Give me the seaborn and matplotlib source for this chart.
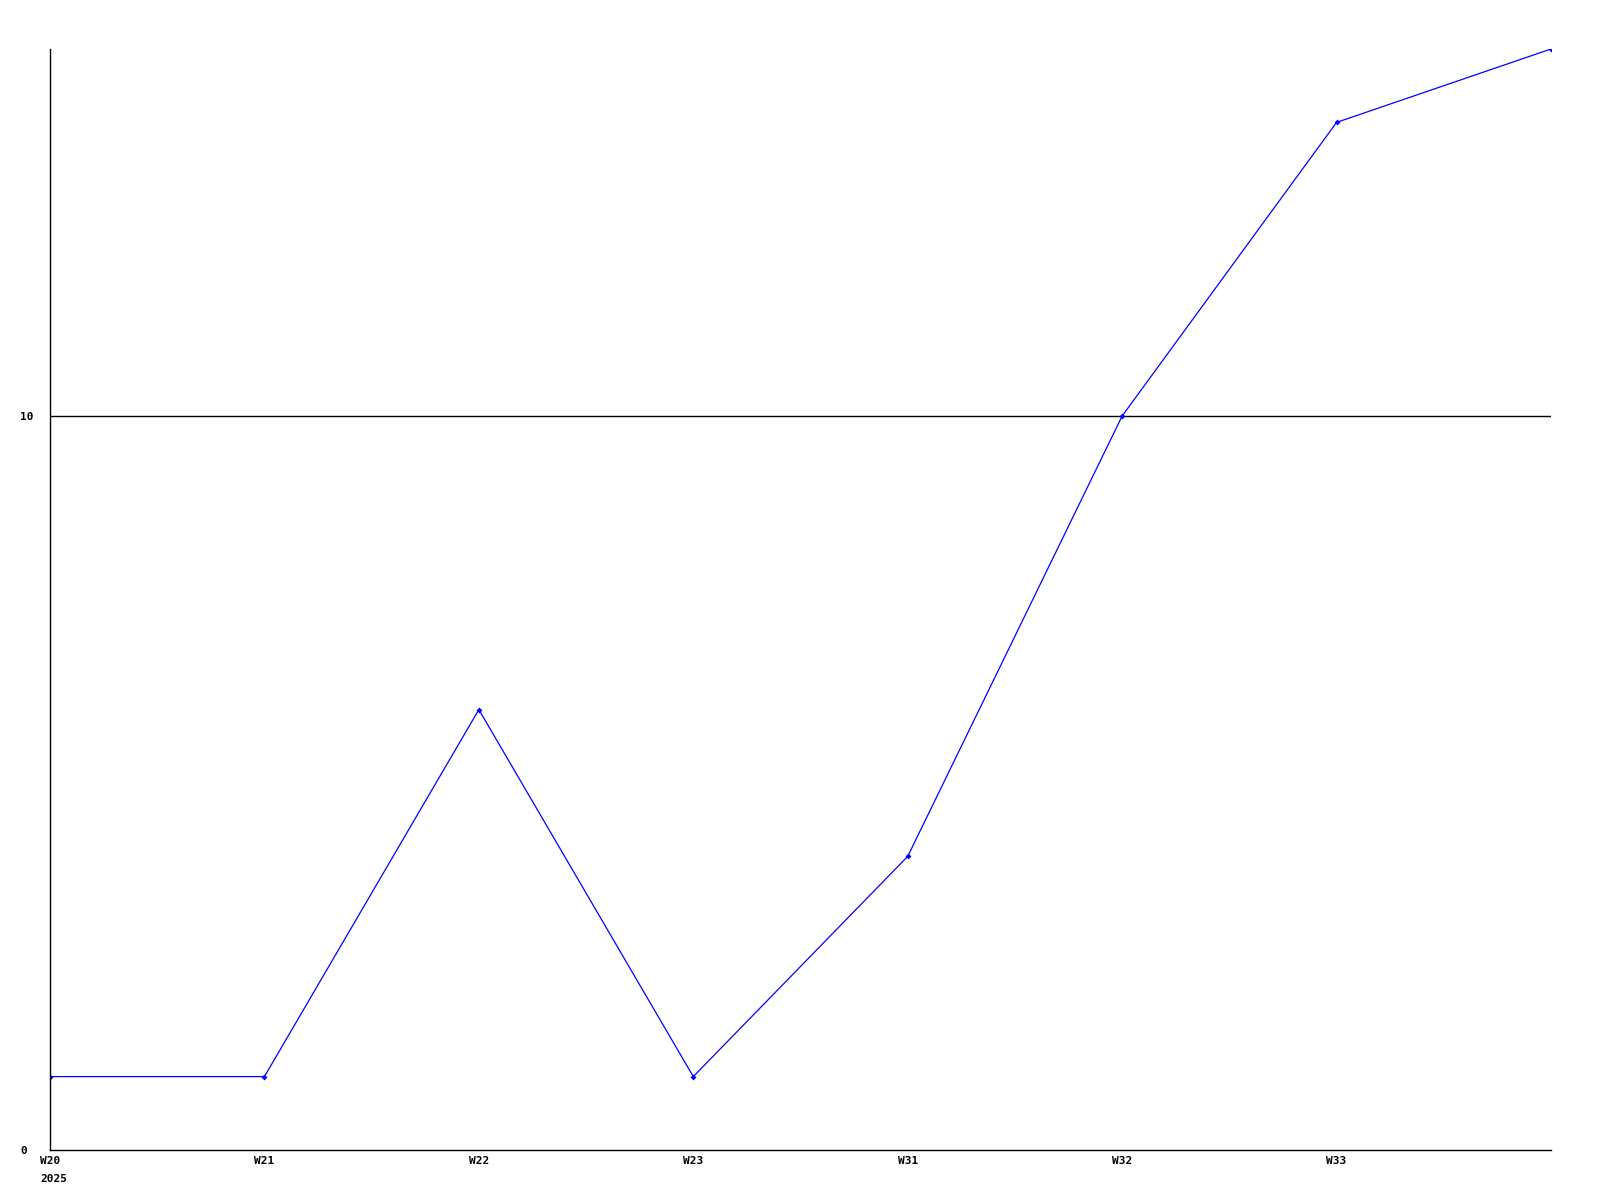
import matplotlib
matplotlib.use("Agg")
import matplotlib.pyplot as plt
import seaborn as sns
import pandas as pd

weeks = ["W20", "W21", "W22", "W23", "W31", "W32", "W33", ""]
values = [1, 1, 6, 1, 4, 10, 14, 15]
y_ticks = [0, 10]

sns.set_theme(style="white")
plt.rcParams["font.family"] = ["DejaVu Sans Mono"]

df = pd.DataFrame({"pos": range(len(weeks)), "value": values})

fig = plt.figure(figsize=(16, 12), dpi=100)
ax = fig.add_axes([50 / 1600, 1 - 1150 / 1200, 1501 / 1600, 1101 / 1200])

sns.lineplot(data=df, x="pos", y="value", ax=ax, color="#0000ff", linewidth=0.9,
             marker="D", markersize=3, markeredgewidth=0, markerfacecolor="#0000ff")

ax.set_xlim(0, len(weeks) - 1)
ax.set_ylim(0, 15)
ax.set_xticks(range(len(weeks)))
ax.set_xticklabels(weeks, fontsize=8, fontweight="bold")
ax.set_yticks(y_ticks)
ax.set_yticklabels([str(v) for v in y_ticks], fontsize=8, fontweight="bold")
for lbl in ax.get_yticklabels():
    lbl.set_horizontalalignment("left")
ax.tick_params(axis="both", length=0, colors="black")
ax.tick_params(axis="x", pad=4)
ax.tick_params(axis="y", pad=21.5)
ax.set_xlabel("")
ax.set_ylabel("")

ax.axhline(10, color="black", linewidth=1, zorder=1)

for s in ["top", "right"]:
    ax.spines[s].set_visible(False)
for s in ["left", "bottom"]:
    ax.spines[s].set_color("black")
    ax.spines[s].set_linewidth(1)

ax.text(0.02, -0.0215, "2025", transform=ax.get_xaxis_transform(), ha="center", va="top",
        fontsize=8, fontweight="bold", color="black")

fig.savefig("out.png", dpi=100, facecolor="white")
